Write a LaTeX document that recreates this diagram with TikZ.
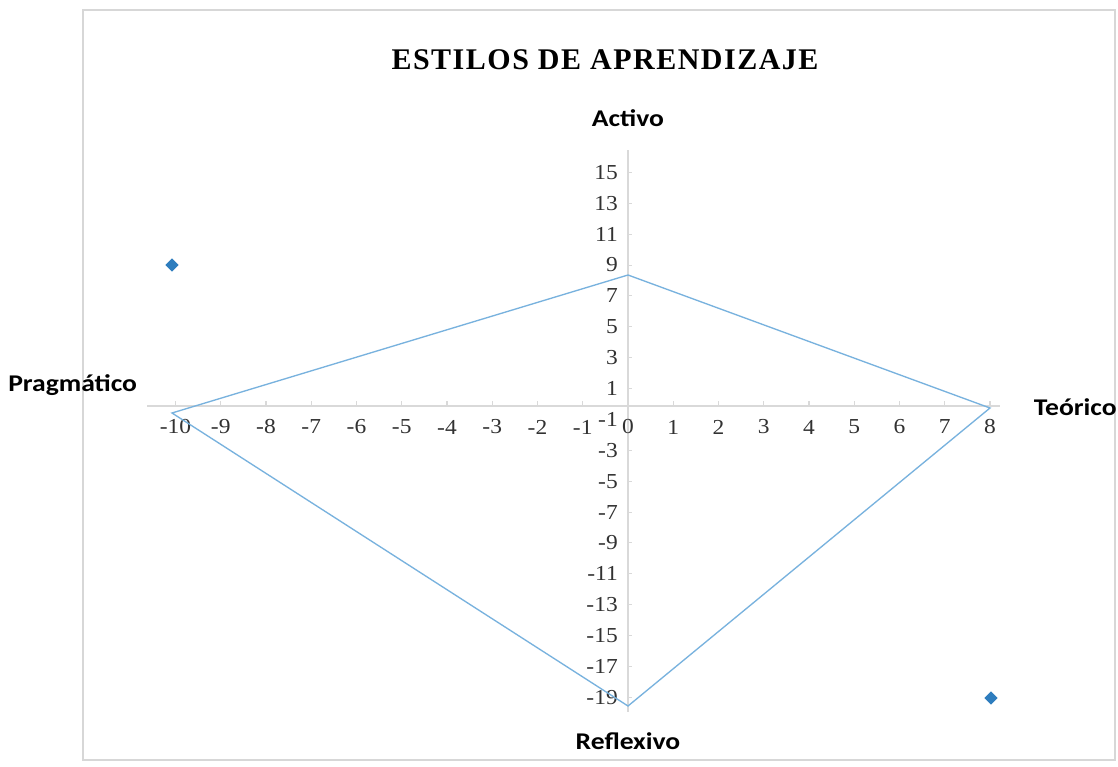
\documentclass[tikz,border=0pt]{standalone}
\usepackage{fontspec}
\setmainfont{Liberation Serif}
\newfontfamily\tickfont[FakeStretch=1.1]{Liberation Serif}
\newfontfamily\axisfont[FakeStretch=1.15]{Carlito}
\newfontfamily\titlefont[LetterSpace=5]{Liberation Serif}
\usetikzlibrary{shapes.geometric}
\definecolor{framecol}{RGB}{215,215,215}
\definecolor{axiscol}{RGB}{217,217,217}
\definecolor{polycol}{RGB}{120,178,222}
\definecolor{markcol}{RGB}{46,125,190}
\definecolor{tickcol}{RGB}{50,50,50}
\tikzset{
  ticklab/.style={font=\tickfont\fontsize{16}{18}\selectfont, text=tickcol, inner sep=0pt},
  axislab/.style={font=\axisfont\bfseries\fontsize{18}{20}\selectfont, inner sep=0pt},
  marker/.style={diamond, fill=markcol, inner sep=0pt, minimum width=10pt, minimum height=10pt},
  polyline/.style={draw=polycol, line width=1pt, line join=miter},
  axisline/.style={draw=axiscol, line width=0.8pt},
}
\begin{document}
\begin{tikzpicture}[x=0.75pt,y=-0.75pt]
\useasboundingbox (0,0) rectangle (1118,767);
\fill[white] (0,0) rectangle (1118,767);
\draw[framecol, line width=1.5pt] (83,10) rectangle (1115,760);
% title
\node[font=\titlefont\bfseries\fontsize{22.5}{26}\selectfont] (title) at (605,60) {ESTILOS DE APRENDIZAJE};
% axes
\coordinate (xl) at (147,406);
\coordinate (xr) at (1000,406);
\coordinate (yt) at (628,150);
\coordinate (yb) at (628,712);
\draw[axisline] (xl) -- (xr);
\draw[axisline] (yt) -- (yb);
\foreach \v in {-10,...,8}{
  \draw[axisline] ({628+45.25*\v},406) -- ({628+45.25*\v},401);
}
\foreach \v in {15,13,...,-19}{
  \draw[axisline] (628,{404-15.44*\v}) -- (632,{404-15.44*\v});
}
% tick labels
\foreach \v [count=\i] in {-10,...,8}{
  \node[ticklab] (xt\i) at ({628+45.25*\v},427) {\v};
}
\foreach \v [count=\i] in {15,13,...,-19}{
  \node[ticklab, anchor=east] (yt\i) at (618,{404-15.44*\v}) {\v};
}
% axis titles
\node[axislab] (activo) at (628,118) {Activo};
\node[axislab, anchor=west] (prag) at (8,385) {Pragmático};
\node[axislab, anchor=east] (teor) at (1117,407) {Teórico};
\node[axislab] (refl) at (628,741) {Reflexivo};
% polygon
\coordinate (vA) at (628,275);
\coordinate (vT) at (990,408);
\coordinate (vR) at (628,706);
\coordinate (vP) at (172,413);
\draw[polyline] (vA) -- (vT) -- (vR) -- (vP) -- cycle;
% markers
\node[marker] (m1) at (172,265) {};
\node[marker] (m2) at (991,698) {};
\end{tikzpicture}
\end{document}
